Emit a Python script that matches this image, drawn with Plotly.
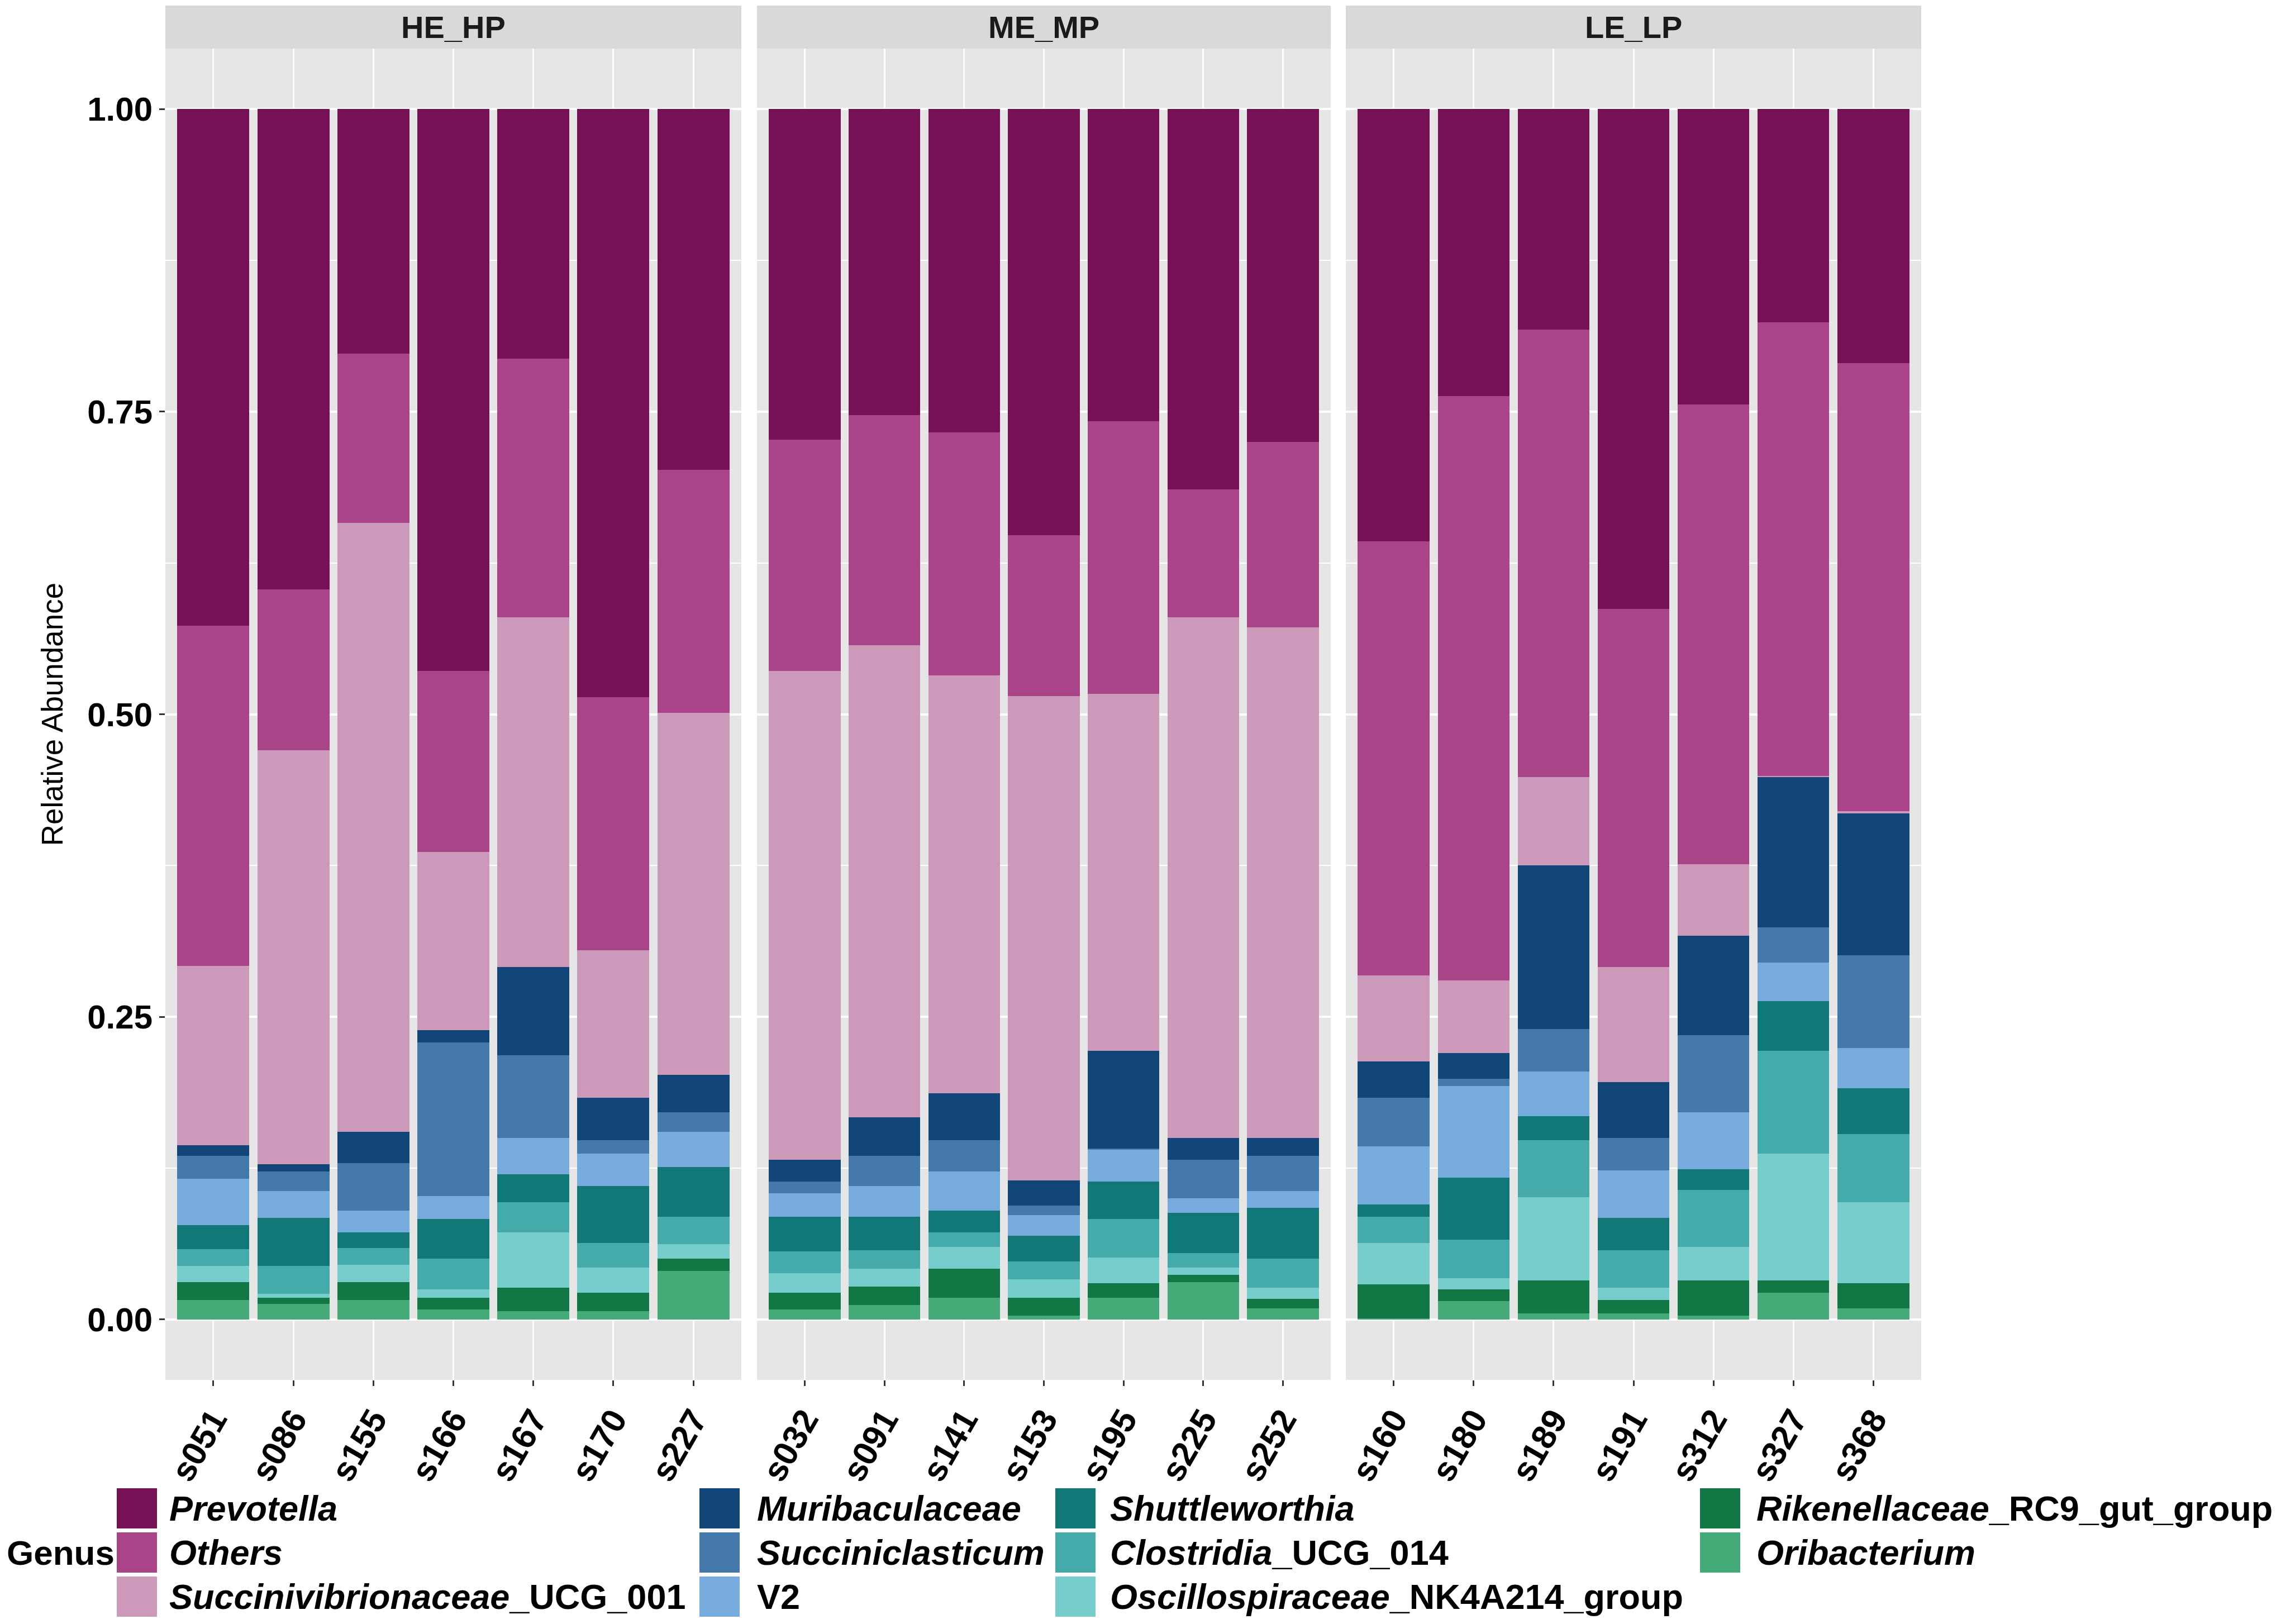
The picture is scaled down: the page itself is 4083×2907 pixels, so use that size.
import plotly.graph_objects as go

# ---------------- data ----------------
groups = ["HE_HP", "ME_MP", "LE_LP"]
samples_he = ["s051", "s086", "s155", "s166", "s167", "s170", "s227"]
samples_me = ["s032", "s091", "s141", "s153", "s195", "s225", "s252"]
samples_le = ["s160", "s180", "s189", "s191", "s312", "s327", "s368"]

genera = ["Prevotella", "Others", "Succinivibrionaceae_UCG_001", "Muribaculaceae",
          "Succiniclasticum", "V2", "Shuttleworthia", "Clostridia_UCG_014",
          "Oscillospiraceae_NK4A214_group", "Rikenellaceae_RC9_gut_group", "Oribacterium"]
legend_labels = ["<i>Prevotella</i>", "<i>Others</i>", "<i>Succinivibrionaceae</i>_UCG_001",
                 "<i>Muribaculaceae</i>", "<i>Succiniclasticum</i>", "V2", "<i>Shuttleworthia</i>",
                 "<i>Clostridia</i>_UCG_014", "<i>Oscillospiraceae</i>_NK4A214_group",
                 "<i>Rikenellaceae</i>_RC9_gut_group", "<i>Oribacterium</i>"]
colors = ["#771155", "#AA4488", "#CC99BB", "#114477", "#4477AA", "#77AADD",
          "#117777", "#44AAAA", "#77CCCC", "#117744", "#44AA77"]

# values in sample order: HE_HP (7), ME_MP (7), LE_LP (7)
prevotella = [0.427, 0.397, 0.202, 0.464, 0.206, 0.486, 0.298,
              0.273, 0.253, 0.267, 0.352, 0.258, 0.314, 0.275,
              0.357, 0.237, 0.182, 0.413, 0.244, 0.176, 0.210]
others = [0.281, 0.133, 0.140, 0.150, 0.214, 0.209, 0.201,
          0.191, 0.190, 0.201, 0.133, 0.225, 0.106, 0.153,
          0.359, 0.483, 0.370, 0.296, 0.380, 0.375, 0.370]
succinivibrionaceae = [0.148, 0.342, 0.503, 0.147, 0.289, 0.122, 0.299,
                       0.404, 0.390, 0.345, 0.400, 0.295, 0.430, 0.422,
                       0.071, 0.060, 0.073, 0.095, 0.059, 0.001, 0.002]
muribaculaceae = [0.009, 0.006, 0.026, 0.010, 0.073, 0.035, 0.031,
                  0.018, 0.032, 0.039, 0.021, 0.081, 0.018, 0.015,
                  0.030, 0.021, 0.135, 0.046, 0.082, 0.124, 0.117]
succiniclasticum = [0.019, 0.016, 0.039, 0.127, 0.068, 0.011, 0.016,
                    0.010, 0.025, 0.026, 0.008, 0.001, 0.032, 0.029,
                    0.040, 0.006, 0.035, 0.027, 0.064, 0.029, 0.077]
v2 = [0.038, 0.022, 0.018, 0.019, 0.030, 0.027, 0.029,
      0.019, 0.025, 0.032, 0.017, 0.026, 0.012, 0.014,
      0.048, 0.076, 0.037, 0.039, 0.047, 0.032, 0.033]
shuttleworthia = [0.020, 0.040, 0.013, 0.033, 0.023, 0.047, 0.041,
                  0.029, 0.028, 0.018, 0.021, 0.031, 0.033, 0.042,
                  0.010, 0.051, 0.020, 0.027, 0.017, 0.041, 0.038]
clostridia = [0.014, 0.023, 0.014, 0.025, 0.025, 0.020, 0.023,
              0.018, 0.015, 0.012, 0.015, 0.032, 0.012, 0.024,
              0.022, 0.032, 0.047, 0.031, 0.047, 0.085, 0.056]
oscillospiraceae = [0.013, 0.003, 0.014, 0.007, 0.046, 0.021, 0.012,
                    0.016, 0.015, 0.018, 0.015, 0.021, 0.006, 0.009,
                    0.034, 0.009, 0.069, 0.010, 0.028, 0.105, 0.067]
rikenellaceae = [0.015, 0.005, 0.015, 0.010, 0.019, 0.015, 0.010,
                 0.014, 0.015, 0.024, 0.015, 0.012, 0.006, 0.008,
                 0.028, 0.010, 0.027, 0.011, 0.029, 0.010, 0.021]
oribacterium = [0.016, 0.013, 0.016, 0.008, 0.007, 0.007, 0.040,
                0.008, 0.012, 0.018, 0.003, 0.018, 0.031, 0.009,
                0.001, 0.015, 0.005, 0.005, 0.003, 0.022, 0.009]

y_tickvals = [0, 0.25, 0.5, 0.75, 1.0]
y_ticktext = ["0.00", "0.25", "0.50", "0.75", "1.00"]

series = [prevotella, others, succinivibrionaceae, muribaculaceae, succiniclasticum, v2,
          shuttleworthia, clostridia, oscillospiraceae, rikenellaceae, oribacterium]
group_samples = [samples_he, samples_me, samples_le]

# ---------------- layout geometry (page pixels; page body has 8px margin) ----------------
OFF = 8
W, H = 4083 - 2 * OFF, 2907 - 2 * OFF
PL, PR, PT, PB = 296, 3439, 87, 2470          # plot area in page pixels
ML, MT = PL - OFF, PT - OFF
MR, MB = W - (PR - OFF), H - (PB - OFF)
PW, PH = PR - PL, PB - PT


def px(x):
    return (x - PL) / PW


def py(y):
    return (PB - y) / PH


domains = [[px(296), px(1327)], [px(1355), px(2382)], [px(2409), px(3439)]]
FONT = "Liberation Sans, Arial, Helvetica, sans-serif"

fig = go.Figure()
axis_names = ["x", "x2", "x3"]

# stack from bottom (last genus) to top (first genus)
for gi in reversed(range(len(genera))):
    vals = series[gi]
    for k, smp in enumerate(group_samples):
        fig.add_trace(go.Bar(
            x=smp, y=vals[k * 7:(k + 1) * 7], name=genera[gi],
            marker=dict(color=colors[gi], line=dict(width=0)),
            xaxis=axis_names[k], yaxis="y", showlegend=False,
            legendgroup=genera[gi]))

shapes = []
annotations = []

xaxis_common = dict(
    type="category", range=[-0.6, 6.6], showgrid=True, gridcolor="white", gridwidth=3,
    ticks="outside", ticklen=10, tickwidth=3, tickcolor="#333333", tickangle=-60,
    tickfont=dict(family=FONT, size=61, color="black", weight="bold"),
    showline=False, zeroline=False, anchor="y", automargin=False)

layout_axes = {}
for k, name in enumerate(["xaxis", "xaxis2", "xaxis3"]):
    d = dict(xaxis_common)
    d["domain"] = domains[k]
    layout_axes[name] = d
    # facet strip
    shapes.append(dict(type="rect", xref="paper", yref="paper",
                       x0=domains[k][0], x1=domains[k][1], y0=1.0, y1=py(10),
                       fillcolor="#D9D9D9", line=dict(width=0), layer="below"))
    annotations.append(dict(text=groups[k], xref="paper", yref="paper",
                            x=(domains[k][0] + domains[k][1]) / 2, y=(1.0 + py(10)) / 2,
                            xanchor="center", yanchor="middle", showarrow=False,
                            font=dict(family=FONT, size=56, color="#1A1A1A", weight="bold")))

layout_axes["yaxis"] = dict(
    domain=[0, 1], range=[-0.05, 1.05], anchor="x",
    tickvals=y_tickvals, ticktext=y_ticktext,
    showgrid=True, gridcolor="white", gridwidth=4, zeroline=False,
    ticks="outside", ticklen=10, tickwidth=3, tickcolor="#333333",
    tickfont=dict(family=FONT, size=60, color="black", weight="bold"),
    minor=dict(tickvals=[0.125, 0.375, 0.625, 0.875], showgrid=True,
               gridcolor="white", gridwidth=2, ticks=""),
    title=dict(text="Relative Abundance", standoff=26,
               font=dict(family=FONT, size=53, color="black")),
    automargin=False)

# ---------------- manual legend (large swatches) ----------------
col_swatch_x = [209, 1252, 1889, 3043]
col_text_x = [301, 1353, 1985, 3142]
row_y = [2700, 2779, 2858]
SW = 72
for i, lab in enumerate(legend_labels):
    c, r = i // 3, i % 3
    shapes.append(dict(type="rect", xref="paper", yref="paper",
                       x0=px(col_swatch_x[c]), x1=px(col_swatch_x[c] + SW),
                       y0=py(row_y[r] + SW / 2), y1=py(row_y[r] - SW / 2),
                       fillcolor=colors[i], line=dict(width=0)))
    annotations.append(dict(text="<b>" + lab + "</b>", xref="paper", yref="paper",
                            x=px(col_text_x[c]), y=py(row_y[r]),
                            xanchor="left", yanchor="middle", showarrow=False,
                            font=dict(family=FONT, size=63, color="black")))
annotations.append(dict(text="<b>Genus</b>", xref="paper", yref="paper",
                        x=px(108), y=py(row_y[1]), xanchor="center", yanchor="middle",
                        showarrow=False, font=dict(family=FONT, size=62, color="black")))

fig.update_layout(
    width=W, height=H,
    margin=dict(l=ML, r=MR, t=MT, b=MB, autoexpand=False),
    barmode="stack", bargap=0.1,
    plot_bgcolor="#E6E6E6", paper_bgcolor="white",
    font=dict(family=FONT, color="black"),
    shapes=shapes, annotations=annotations, showlegend=False,
    **layout_axes)

fig.write_html("out.html")
